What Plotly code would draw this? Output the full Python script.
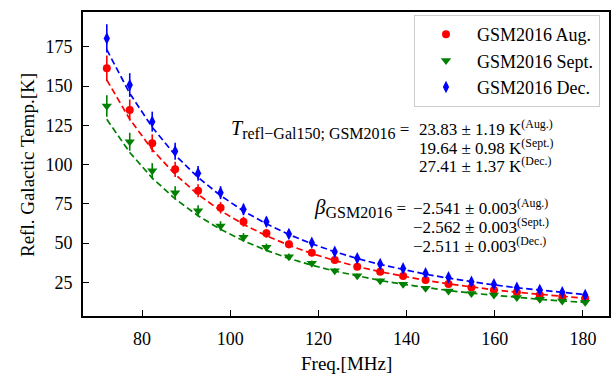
import plotly.graph_objects as go

freq = [72.0, 77.2, 82.3, 87.5, 92.7, 97.8, 103.0, 108.2, 113.3, 118.5, 123.7,
        128.8, 134.0, 139.2, 144.3, 149.5, 154.7, 159.8, 165.0, 170.2, 175.3, 180.5]

t_aug = [161.3, 134.7, 113.5, 97.0, 83.3, 72.5, 63.6, 56.2, 49.2, 43.9, 39.2,
         35.0, 31.7, 29.0, 26.5, 24.0, 21.8, 20.1, 18.7, 17.0, 15.9, 14.8]
t_sept = [137.3, 114.5, 96.1, 82.1, 70.6, 60.9, 53.7, 47.3, 41.3, 37.1, 32.4,
          29.2, 26.0, 23.8, 21.2, 19.5, 18.0, 17.0, 15.3, 14.2, 13.1, 12.3]
t_dec = [180.3, 150.6, 127.3, 108.5, 94.4, 82.1, 71.5, 63.6, 55.8, 50.2, 44.5,
         40.3, 36.7, 33.9, 30.8, 28.2, 25.4, 23.8, 21.6, 20.1, 18.7, 17.0]

err_aug = [8.07, 6.74, 5.68, 4.85, 4.17, 3.63, 3.18, 2.81, 2.46, 2.20, 1.96,
           1.75, 1.59, 1.45, 1.33, 1.20, 1.09, 1.01, 0.94, 0.85, 0.80, 0.74]
err_sept = [6.87, 5.73, 4.81, 4.11, 3.53, 3.05, 2.69, 2.37, 2.07, 1.86, 1.62,
            1.46, 1.30, 1.19, 1.06, 0.98, 0.90, 0.85, 0.77, 0.71, 0.66, 0.62]
err_dec = [9.02, 7.53, 6.37, 5.43, 4.72, 4.11, 3.58, 3.18, 2.79, 2.51, 2.23,
           2.02, 1.84, 1.70, 1.54, 1.41, 1.27, 1.19, 1.08, 1.01, 0.94, 0.85]

fit_aug = [153.85, 128.87, 109.53, 93.74, 80.95, 70.65, 61.94, 54.65, 48.62, 43.38, 38.89,
           35.10, 31.74, 28.81, 26.30, 24.03, 22.03, 20.29, 18.70, 17.29, 16.04, 14.89]
fit_sept = [128.77, 107.70, 91.42, 78.14, 67.40, 58.75, 51.45, 45.35, 40.30, 35.93, 32.18,
            29.02, 26.22, 23.78, 21.69, 19.81, 18.15, 16.70, 15.38, 14.21, 13.17, 12.22]
fit_dec = [173.11, 145.30, 123.74, 106.09, 91.78, 80.23, 70.44, 62.25, 55.45, 49.54, 44.48,
           40.19, 36.38, 33.07, 30.21, 27.64, 25.37, 23.38, 21.58, 19.96, 18.53, 17.22]

names = ["GSM2016 Aug.", "GSM2016 Sept.", "GSM2016 Dec."]
colors = ["#ff0000", "#008000", "#0000ff"]
symbols = ["circle", "triangle-down", "diamond-tall"]
msizes = [8, 9, 9]

t_label = ('<span style="font-size:20px"><i>T</i></span>'
           '<sub><span style="font-size:16px">refl−Gal150; GSM2016</span></sub> =')
t_values = ["23.83 ± 1.19 K<sup>(Aug.)</sup>",
            "19.64 ± 0.98 K<sup>(Sept.)</sup>",
            "27.41 ± 1.37 K<sup>(Dec.)</sup>"]
b_label = ('<span style="font-size:21px"><i>β</i></span>'
           '<sub><span style="font-size:16px">GSM2016</span></sub> =')
b_values = ["−2.541 ± 0.003<sup>(Aug.)</sup>",
            "−2.562 ± 0.003<sup>(Sept.)</sup>",
            "−2.511 ± 0.003<sup>(Dec.)</sup>"]
x_title = "Freq.[MHz]"
y_title = "Refl. Galactic Temp.[K]"

FONT = "Liberation Serif"
fig = go.Figure()

for fit, c in zip([fit_aug, fit_sept, fit_dec], colors):
    fig.add_trace(go.Scatter(x=freq, y=fit, mode="lines", showlegend=False,
                             line=dict(color=c, width=1.7, dash="6.5px,3.5px"),
                             hoverinfo="skip"))

for t, e, n, c, s, ms in zip([t_aug, t_sept, t_dec], [err_aug, err_sept, err_dec],
                             names, colors, symbols, msizes):
    fig.add_trace(go.Scatter(x=freq, y=t, mode="markers", name=n,
                             marker=dict(color=c, symbol=s, size=ms, line=dict(width=0)),
                             error_y=dict(type="data", array=e, color=c,
                                          thickness=1.6, width=0)))

# plot area pixel geometry helpers
L, R, T, B = 83, 609, 12, 316
def px(xp):
    return (xp - L) / (R - L)
def py(yp):
    return (B - yp) / (B - T)

ann = []
ann.append(dict(text=t_label, x=px(411), y=py(129), xanchor="right", yanchor="middle"))
for v, yp in zip(t_values, [128, 147, 165]):
    ann.append(dict(text=v, x=px(417), y=py(yp), xanchor="left", yanchor="middle"))
ann.append(dict(text=b_label, x=px(408), y=py(208), xanchor="right", yanchor="middle"))
for v, yp in zip(b_values, [207, 226, 245]):
    ann.append(dict(text=v, x=px(411), y=py(yp), xanchor="left", yanchor="middle"))
for a in ann:
    a.update(xref="paper", yref="paper", showarrow=False,
             font=dict(family=FONT, size=17, color="black"))
ann.append(dict(text=x_title, x=px(346), y=py(363), xref="paper", yref="paper",
                xanchor="center", yanchor="middle", showarrow=False,
                font=dict(family=FONT, size=19, color="black")))
ann.append(dict(text=y_title, x=px(27), y=py(165), xref="paper", yref="paper",
                xanchor="center", yanchor="middle", showarrow=False, textangle=-90,
                font=dict(family=FONT, size=19, color="black")))
fig.update_layout(annotations=ann)

axis_common = dict(showline=True, linecolor="black", linewidth=1.6, mirror=True,
                   ticks="inside", ticklen=6, tickwidth=1.3, tickcolor="black",
                   showgrid=False, zeroline=False,
                   tickfont=dict(family=FONT, size=18, color="black"),
                   automargin=False)
fig.update_xaxes(range=[66.6, 185.9], tickvals=[80, 100, 120, 140, 160, 180],
                 ticklabelstandoff=6, **axis_common)
fig.update_yaxes(range=[3.6, 197.1], tickvals=[25, 50, 75, 100, 125, 150, 175],
                 ticklabelstandoff=5, **axis_common)

fig.update_layout(
    width=613, height=376,
    margin=dict(l=L, r=613 - R, t=T, b=376 - B),
    paper_bgcolor="white", plot_bgcolor="white",
    legend=dict(x=px(600), y=py(15), xanchor="right", yanchor="top",
                bgcolor="white", bordercolor="#cccccc", borderwidth=1,
                font=dict(family=FONT, size=18, color="black"),
                tracegroupgap=0, itemwidth=52),
)

fig.write_html("out.html")
